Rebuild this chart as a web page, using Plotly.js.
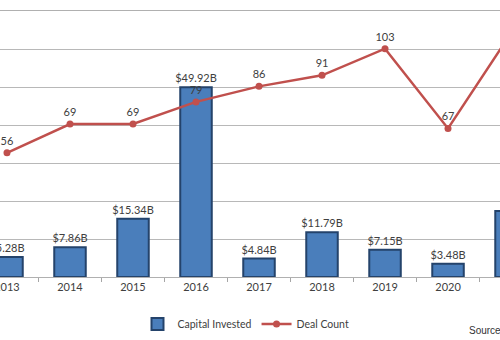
<!DOCTYPE html>
<html>
<head>
<meta charset="utf-8">
<script src="https://cdn.plot.ly/plotly-3.0.1.min.js"></script>
<style>html,body{margin:0;padding:0;background:#fff;}#chart{width:500px;height:340px;}</style>
</head>
<body>
<div id="chart"></div>
<script>
const years = ['2013','2014','2015','2016','2017','2018','2019','2020','2021'];
const capitalInvested = [5.28, 7.86, 15.34, 49.92, 4.84, 11.79, 7.15, 3.48, 17.4];
const dealCount = [56, 69, 69, 79, 86, 91, 103, 67, 110];
const barLabels = capitalInvested.map(v => '$' + v.toFixed(2) + 'B');
const lineLabels = dealCount.map(v => String(v));

const font = 'Lato, Liberation Sans, Arial, sans-serif';

const traces = [
  {
    type: 'bar',
    name: 'Capital Invested',
    x: years,
    y: capitalInvested,
    text: barLabels,
    textposition: 'outside',
    constraintext: 'none',
    cliponaxis: false,
    textfont: {family: font, size: 11, color: '#404040'},
    marker: {color: '#4A7EBB', line: {color: '#24436b', width: 2}},
    yaxis: 'y'
  },
  {
    type: 'scatter',
    mode: 'lines+markers+text',
    name: 'Deal Count',
    x: years,
    y: dealCount,
    text: lineLabels,
    textposition: 'top center',
    cliponaxis: false,
    textfont: {family: font, size: 11, color: '#404040'},
    line: {color: '#C0504D', width: 2.5},
    marker: {color: '#C0504D', size: 7},
    yaxis: 'y2'
  }
];

const layout = {
  width: 500,
  height: 340,
  margin: {l: 0, r: 0, t: 11, b: 63},
  paper_bgcolor: '#ffffff',
  plot_bgcolor: 'rgba(0,0,0,0)',
  bargap: 0.5,
  showlegend: true,
  legend: {
    orientation: 'h',
    x: 0.492, xanchor: 'center',
    y: -0.177, yanchor: 'middle',
    font: {family: font, size: 10.5, color: '#404040'},
    itemwidth: 30
  },
  xaxis: {
    type: 'category',
    range: [-0.111, 7.825],
    showgrid: false,
    showline: true,
    mirror: true,
    linecolor: '#b0b0b0',
    linewidth: 1,
    ticks: 'outside',
    tickson: 'boundaries',
    ticklen: 4,
    tickcolor: '#a6a6a6',
    tickfont: {family: font, size: 11, color: '#404040'},
    zeroline: false
  },
  yaxis: {
    range: [0, 70],
    dtick: 10,
    showgrid: true,
    gridcolor: '#b8b8b8',
    gridwidth: 1,
    showticklabels: false,
    zeroline: false,
    showline: false
  },
  yaxis2: {
    range: [0, 120],
    overlaying: 'y',
    side: 'right',
    showgrid: false,
    showticklabels: false,
    zeroline: false,
    showline: false
  },
  annotations: [
    {
      text: 'Source',
      xref: 'paper', yref: 'paper',
      x: 0.934, y: -0.203,
      xanchor: 'left', yanchor: 'middle',
      showarrow: false,
      font: {family: 'Liberation Sans, Arial, sans-serif', size: 10, color: '#333333'}
    }
  ]
};

Plotly.newPlot('chart', traces, layout, {displayModeBar: false, staticPlot: true});
</script>
</body>
</html>
